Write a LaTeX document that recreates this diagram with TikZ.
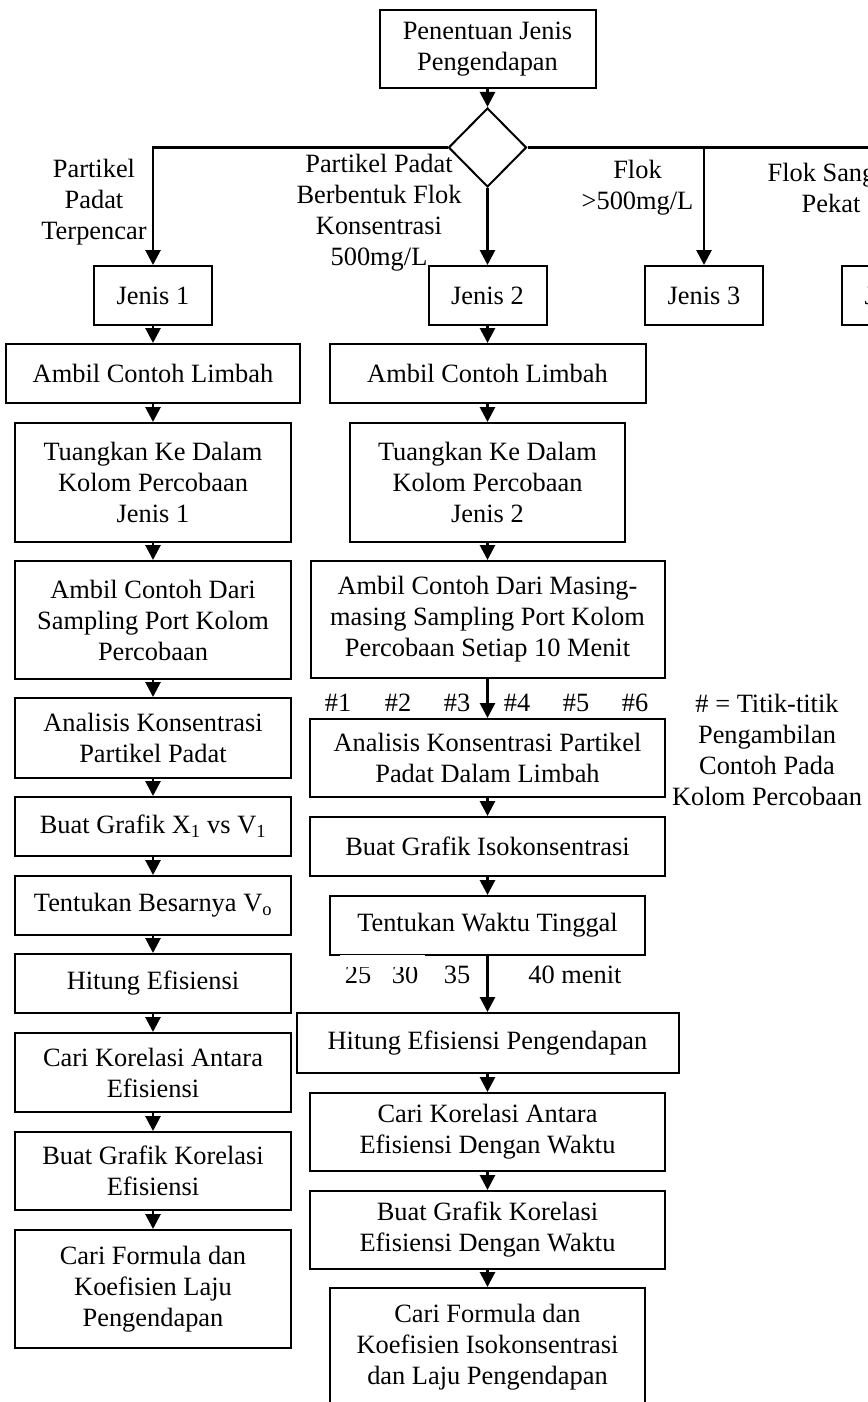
\documentclass[tikz,border=0pt]{standalone}
\usepackage{fontspec}
\setmainfont{Liberation Serif}
\usetikzlibrary{shapes.geometric,arrows.meta}
\begin{document}
\begin{tikzpicture}[x=1pt,y=-1pt,
  every node/.style={font=\fontsize{26.4}{31}\selectfont},
  box/.style={draw, line width=2pt, align=center, inner sep=0pt},
  lbl/.style={align=center, inner sep=0pt},
  conn/.style={line width=2.8pt},
  arr/.style={conn, -{Triangle[width=15pt,length=15pt]}}]
\useasboundingbox (0,0) rectangle (867,1402);

% top
\node[box, minimum width=216pt, minimum height=78pt] (top) at (487.5,49) {Penentuan Jenis\\Pengendapan};
\node[draw, line width=2pt, diamond, minimum width=78pt, minimum height=79pt, inner sep=0pt] (dia) at (487.5,147.5) {};

% jenis boxes
\node[box, minimum width=118pt, minimum height=59pt] (j1) at (153,295.5) {Jenis 1};
\node[box, minimum width=118pt, minimum height=59pt] (j2) at (487.5,295.5) {Jenis 2};
\node[box, minimum width=118pt, minimum height=59pt] (j3) at (704,295.5) {Jenis 3};
\node[box, minimum width=118pt, minimum height=59pt] (j4) at (901,295.5) {Jenis 4};

% branch labels
\node[lbl] (b1) at (94,202.5) {Partikel\\Padat\\Terpencar};
\node[lbl] (b2) at (379,213) {Partikel Padat\\Berbentuk Flok\\Konsentrasi\\500mg/L};
\node[lbl] (b3) at (637.5,188) {Flok\\>500mg/L};
\node[lbl] (b4) at (831,188) {Flok Sangat\\Pekat};

% left column
\node[box, minimum width=294pt, minimum height=59pt] (l1) at (153,373.5) {Ambil Contoh Limbah};
\node[box, minimum width=276pt, minimum height=119pt] (l2) at (153,482.5) {Tuangkan Ke Dalam\\Kolom Percobaan\\Jenis 1};
\node[box, minimum width=276pt, minimum height=118pt] (l3) at (153,620) {Ambil Contoh Dari\\Sampling Port Kolom\\Percobaan};
\node[box, minimum width=276pt, minimum height=80pt] (l4) at (153,738) {Analisis Konsentrasi\\Partikel Padat};
\node[box, minimum width=276pt, minimum height=59pt] (l5) at (153,826.5) {Buat Grafik X\textsubscript{1} vs V\textsubscript{1}};
\node[box, minimum width=276pt, minimum height=59pt] (l6) at (153,905.5) {Tentukan Besarnya V\textsubscript{o}};
\node[box, minimum width=276pt, minimum height=59pt] (l7) at (153,983.5) {Hitung Efisiensi};
\node[box, minimum width=276pt, minimum height=79pt] (l8) at (153,1072.5) {Cari Korelasi Antara\\Efisiensi};
\node[box, minimum width=276pt, minimum height=78pt] (l9) at (153,1171) {Buat Grafik Korelasi\\Efisiensi};
\node[box, minimum width=276pt, minimum height=118pt] (l10) at (153,1289) {Cari Formula dan\\Koefisien Laju\\Pengendapan};

% right column
\node[box, minimum width=316pt, minimum height=59pt] (r1) at (487.5,373.5) {Ambil Contoh Limbah};
\node[box, minimum width=275pt, minimum height=119pt] (r2) at (487.5,482.5) {Tuangkan Ke Dalam\\Kolom Percobaan\\Jenis 2};
\node[box, minimum width=354pt, minimum height=117pt] (r3) at (487.5,619.5) {Ambil Contoh Dari Masing-\\masing Sampling Port Kolom\\Percobaan Setiap 10 Menit};
\node[box, minimum width=355pt, minimum height=78pt] (r4) at (487.5,758) {Analisis Konsentrasi Partikel\\Padat Dalam Limbah};
\node[box, minimum width=355pt, minimum height=59pt] (r5) at (487.5,846.5) {Buat Grafik Isokonsentrasi};
\node[box, minimum width=315pt, minimum height=59pt] (r6) at (487.5,925.5) {Tentukan Waktu Tinggal};
\node[box, minimum width=382pt, minimum height=60pt] (r7) at (487.5,1043) {Hitung Efisiensi Pengendapan};
\node[box, minimum width=355pt, minimum height=78pt] (r8) at (487.5,1132) {Cari Korelasi Antara\\Efisiensi Dengan Waktu};
\node[box, minimum width=355pt, minimum height=78pt] (r9) at (487.5,1230) {Buat Grafik Korelasi\\Efisiensi Dengan Waktu};
\node[box, minimum width=315pt, minimum height=119pt] (r10) at (487.5,1347.5) {Cari Formula dan\\Koefisien Isokonsentrasi\\dan Laju Pengendapan};

% sampling port labels
\node[lbl] (h1) at (338,703) {\#1};
\node[lbl] (h2) at (398,703) {\#2};
\node[lbl] (h3) at (457,703) {\#3};
\node[lbl] (h4) at (517,703) {\#4};
\node[lbl] (h5) at (576,703) {\#5};
\node[lbl] (h6) at (635,703) {\#6};
\node[lbl] (leg) at (767,749.5) {\# = Titik-titik\\Pengambilan\\Contoh Pada\\Kolom Percobaan};

% time labels
\node[lbl] (t25) at (358,975) {25};
\node[lbl] (t30) at (405,975) {30};
\node[lbl] (t35) at (457,975) {35};
\node[lbl] (t40) at (575,975) {40 menit};
\fill[white] (340,955) rectangle (425,966.5);

% connectors
\draw[arr] (top.south) -- (dia.north);
\draw[arr] (dia.west) -| (j1.north);
\draw[arr] (dia.south) -- (j2.north);
\draw[arr] (dia.east) -| (j4.north);
\draw[arr] (j3.north |- dia.east) -- (j3.north);

\draw[arr] (j1.south) -- (l1.north);
\draw[arr] (l1.south) -- (l2.north);
\draw[arr] (l2.south) -- (l3.north);
\draw[arr] (l3.south) -- (l4.north);
\draw[arr] (l4.south) -- (l5.north);
\draw[arr] (l5.south) -- (l6.north);
\draw[arr] (l6.south) -- (l7.north);
\draw[arr] (l7.south) -- (l8.north);
\draw[arr] (l8.south) -- (l9.north);
\draw[arr] (l9.south) -- (l10.north);

\draw[arr] (j2.south) -- (r1.north);
\draw[arr] (r1.south) -- (r2.north);
\draw[arr] (r2.south) -- (r3.north);
\draw[arr] (r3.south) -- (r4.north);
\draw[arr] (r4.south) -- (r5.north);
\draw[arr] (r5.south) -- (r6.north);
\draw[arr] (r6.south) -- (r7.north);
\draw[arr] (r7.south) -- (r8.north);
\draw[arr] (r8.south) -- (r9.north);
\draw[arr] (r9.south) -- (r10.north);
\end{tikzpicture}
\end{document}
